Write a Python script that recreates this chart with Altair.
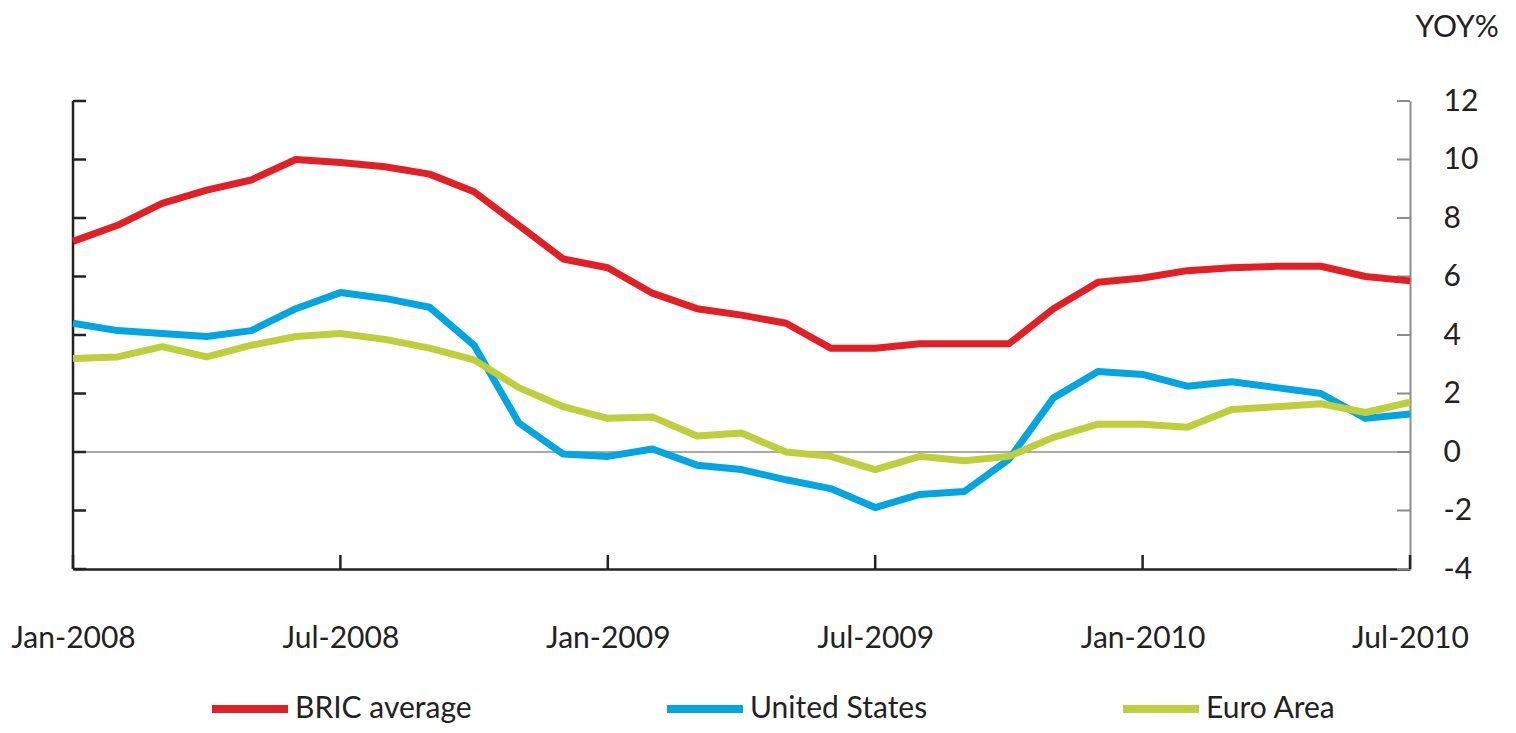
import altair as alt
import pandas as pd

# ---- data ----
series_names = ["BRIC average", "United States", "Euro Area"]
series_colors = ["#E31F26", "#00A5E1", "#BDD03B"]

bric = [7.2, 7.75, 8.5, 8.95, 9.3, 10.0, 9.9, 9.75, 9.5, 8.9, 7.75, 6.6,
        6.3, 5.43, 4.9, 4.68, 4.4, 3.55, 3.55, 3.7, 3.7, 3.7, 4.9, 5.8,
        5.95, 6.2, 6.3, 6.35, 6.35, 6.0, 5.85]
us = [4.4, 4.15, 4.05, 3.95, 4.15, 4.9, 5.45, 5.25, 4.95, 3.65, 1.0, -0.07,
      -0.15, 0.1, -0.45, -0.6, -0.95, -1.25, -1.9, -1.45, -1.35, -0.25, 1.85, 2.75,
      2.65, 2.25, 2.4, 2.2, 2.0, 1.15, 1.3]
euro = [3.2, 3.25, 3.6, 3.25, 3.65, 3.95, 4.05, 3.85, 3.55, 3.15, 2.2, 1.55,
        1.15, 1.2, 0.55, 0.65, 0.0, -0.15, -0.6, -0.15, -0.3, -0.15, 0.5, 0.95,
        0.95, 0.85, 1.45, 1.55, 1.65, 1.35, 1.7]

x_tick_pos = [0, 6, 12, 18, 24, 30]
x_tick_labels = ["Jan-2008", "Jul-2008", "Jan-2009", "Jul-2009", "Jan-2010", "Jul-2010"]
y_ticks = [-4, -2, 0, 2, 4, 6, 8, 10, 12]

W, H = 1337, 468
FONT = "Lato"
TXT = "#222222"
FS = 30

rows = []
for name, vals in zip(series_names, [bric, us, euro]):
    for i, v in enumerate(vals):
        rows.append({"m": i, "series": name, "v": v})
df = pd.DataFrame(rows)

xscale = alt.Scale(domain=[0, 30], nice=False, zero=False)
yscale = alt.Scale(domain=[-4, 12], nice=False, zero=False)

label_expr = "[" + ",".join("'%s'" % s for s in x_tick_labels) + "][round(datum.value/6)]"

x_axis = alt.Axis(
    values=x_tick_pos, labelExpr=label_expr, title=None, grid=False,
    ticks=False, tickSize=0, labelPadding=54, labelFlush=False,
    labelFont=FONT, labelFontSize=FS, labelColor=TXT,
    domainColor="#222222", domainWidth=2.5)
y_axis = alt.Axis(
    orient="right", values=y_ticks, grid=False, ticks=False, tickSize=0,
    labelExpr="toString(datum.value)",
    labelPadding=33, labelFont=FONT, labelFontSize=FS, labelColor=TXT,
    domainColor="#8c8c8c", domainWidth=2,
    title="YOY%", titleAngle=0, titleAlign="left", titleBaseline="middle",
    titleX=5, titleY=-74, titleFont=FONT, titleFontSize=FS,
    titleFontWeight="normal", titleColor=TXT)

lines = alt.Chart(df).mark_line(strokeWidth=7, strokeJoin="round").encode(
    x=alt.X("m:Q", scale=xscale, axis=x_axis),
    y=alt.Y("v:Q", scale=yscale, axis=y_axis),
    color=alt.Color("series:N", sort=series_names,
                    scale=alt.Scale(domain=series_names, range=series_colors),
                    legend=alt.Legend(
                        orient="none", legendX=135, legendY=566,
                        direction="horizontal", columns=3, title=None,
                        symbolType="stroke", symbolSize=5776, symbolStrokeWidth=8,
                        labelFont=FONT, labelFontSize=FS, labelColor=TXT,
                        labelLimit=500, labelOffset=3, columnPadding=179)),
)

zero_df = pd.DataFrame({"v": [0]})
zero = alt.Chart(zero_df).mark_rule(color="#8c8c8c", strokeWidth=1.5).encode(
    y=alt.Y("v:Q", scale=yscale, axis=y_axis))

tick_df = pd.DataFrame({"v": y_ticks})
left_axis = alt.Chart(zero_df).mark_rule(color="#222222", strokeWidth=2.5).encode(
    x=alt.value(0), y=alt.value(0), y2=alt.value(H))
left_ticks = alt.Chart(tick_df).mark_rule(color="#222222", strokeWidth=2.5).encode(
    y=alt.Y("v:Q", scale=yscale, axis=y_axis), x=alt.value(0), x2=alt.value(13))
right_ticks = alt.Chart(tick_df).mark_rule(color="#8c8c8c", strokeWidth=2).encode(
    y=alt.Y("v:Q", scale=yscale, axis=y_axis), x=alt.value(W - 13), x2=alt.value(W))

xt_df = pd.DataFrame({"m": x_tick_pos})
bottom_ticks = alt.Chart(xt_df).mark_rule(color="#222222", strokeWidth=2.5).encode(
    x=alt.X("m:Q", scale=xscale, axis=x_axis), y=alt.value(H - 14), y2=alt.value(H))

chart = alt.layer(zero, left_axis, left_ticks, right_ticks, bottom_ticks, lines).properties(
    width=W, height=H,
    autosize=alt.AutoSizeParams(type="none"),
    padding={"left": 65, "top": 93, "right": 98, "bottom": 156},
).configure(background="white", view=alt.ViewConfig(stroke=None))

chart.save("out.html", embed_options={"renderer": "svg", "actions": False})
